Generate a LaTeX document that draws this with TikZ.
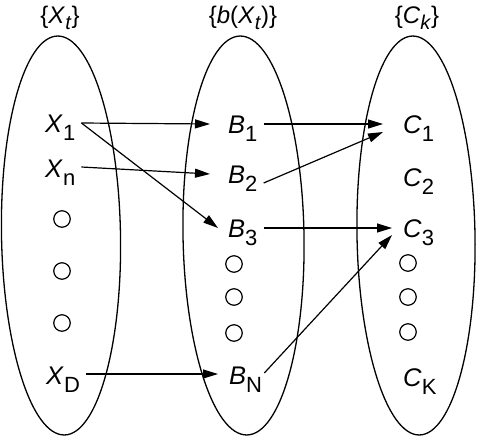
\documentclass[tikz,border=0pt]{standalone}
\usepackage{fontspec}
\setmainfont{Liberation Sans}
\usetikzlibrary{calc,arrows.meta}
\newcommand{\vlbl}[2]{\textit{#1}\raisebox{-8pt}{\fontsize{22}{22}\selectfont #2}}
\newcommand{\tsub}[1]{\raisebox{-6pt}{\fontsize{20}{20}\selectfont\textit{#1}}}
\begin{document}
\begin{tikzpicture}[x=1pt,y=-1pt,
  font=\fontsize{25.5}{25.5}\selectfont,
  ell/.style={draw, line width=1.3pt},
  lbl/.style={inner sep=0pt, anchor=base west},
  ttl/.style={inner sep=0pt, anchor=base, font=\fontsize{24}{24}\selectfont},
  dot/.style={draw, circle, line width=1.2pt, minimum size=16.5pt, inner sep=0pt},
  arr/.style={line width=1.2pt, -{Triangle[length=15pt,width=9pt]}}]
\useasboundingbox (0,0) rectangle (479,437);
% ellipses
\draw[ell] (61,235.5) ellipse [x radius=59.5, y radius=199.5, rotate=1];
\draw[ell] (243.5,235.5) ellipse [x radius=60.5, y radius=199.5, rotate=1];
\draw[ell] (416,235.5) ellipse [x radius=59, y radius=199.5, rotate=1];
% titles
\node[ttl] (t1) at (60,23) {\{\textit{X}\tsub{t}\}};
\node[ttl] (t2) at (243,23) {\{\textit{b}(\textit{X}\tsub{t})\}};
\node[ttl] (t3) at (417,23) {\{\textit{C}\tsub{k}\}};
% left column
\node[lbl] (X1) at (45,132) {\vlbl{X}{1}};
\node[lbl] (Xn) at (45,177) {\vlbl{X}{n}};
\node[dot] (d1) at (62,219) {};
\node[dot] (d2) at (62,271) {};
\node[dot] (d3) at (62,323) {};
\node[lbl] (XD) at (46,384) {\vlbl{X}{D}};
% middle column
\node[lbl] (B1) at (228,133) {\vlbl{B}{1}};
\node[lbl] (B2) at (228,183) {\vlbl{B}{2}};
\node[lbl] (B3) at (228,237) {\vlbl{B}{3}};
\node[dot] (d4) at (234,264) {};
\node[dot] (d5) at (234,297) {};
\node[dot] (d6) at (234,333) {};
\node[lbl] (BN) at (229,384) {\vlbl{B}{N}};
% right column
\node[lbl] (C1) at (403,133) {\vlbl{C}{1}};
\node[lbl] (C2) at (403,186) {\vlbl{C}{2}};
\node[lbl] (C3) at (403,237) {\vlbl{C}{3}};
\node[dot] (d7) at (408,263) {};
\node[dot] (d8) at (408,297) {};
\node[dot] (d9) at (408,332) {};
\node[lbl] (CK) at (403,386) {\vlbl{C}{K}};
% arrows
\draw[arr] ($(X1.base east)+(6,-9)$) -- ($(B1.base west)+(-18,-9)$);
\draw[arr] ($(Xn.base east)+(6,-10)$) -- ($(B2.base west)+(-18,-9)$);
\draw[arr] ($(X1.base east)+(6,-9)$) -- ($(B3.base west)+(-10,-9)$);
\draw[arr] ($(XD.base east)+(6,-10)$) -- ($(BN.base west)+(-11,-10)$);
\draw[arr] ($(B1.base east)+(6,-9)$) -- ($(C1.base west)+(-20,-9)$);
\draw[arr] ($(B2.base east)+(6,0)$) -- ($(C1.base west)+(-20,-1)$);
\draw[arr] ($(B3.base east)+(6,-9)$) -- ($(C3.base west)+(-11,-9)$);
\draw[arr] ($(BN.base east)+(2,-11)$) -- ($(C3.base west)+(-11,-2)$);
\end{tikzpicture}
\end{document}
